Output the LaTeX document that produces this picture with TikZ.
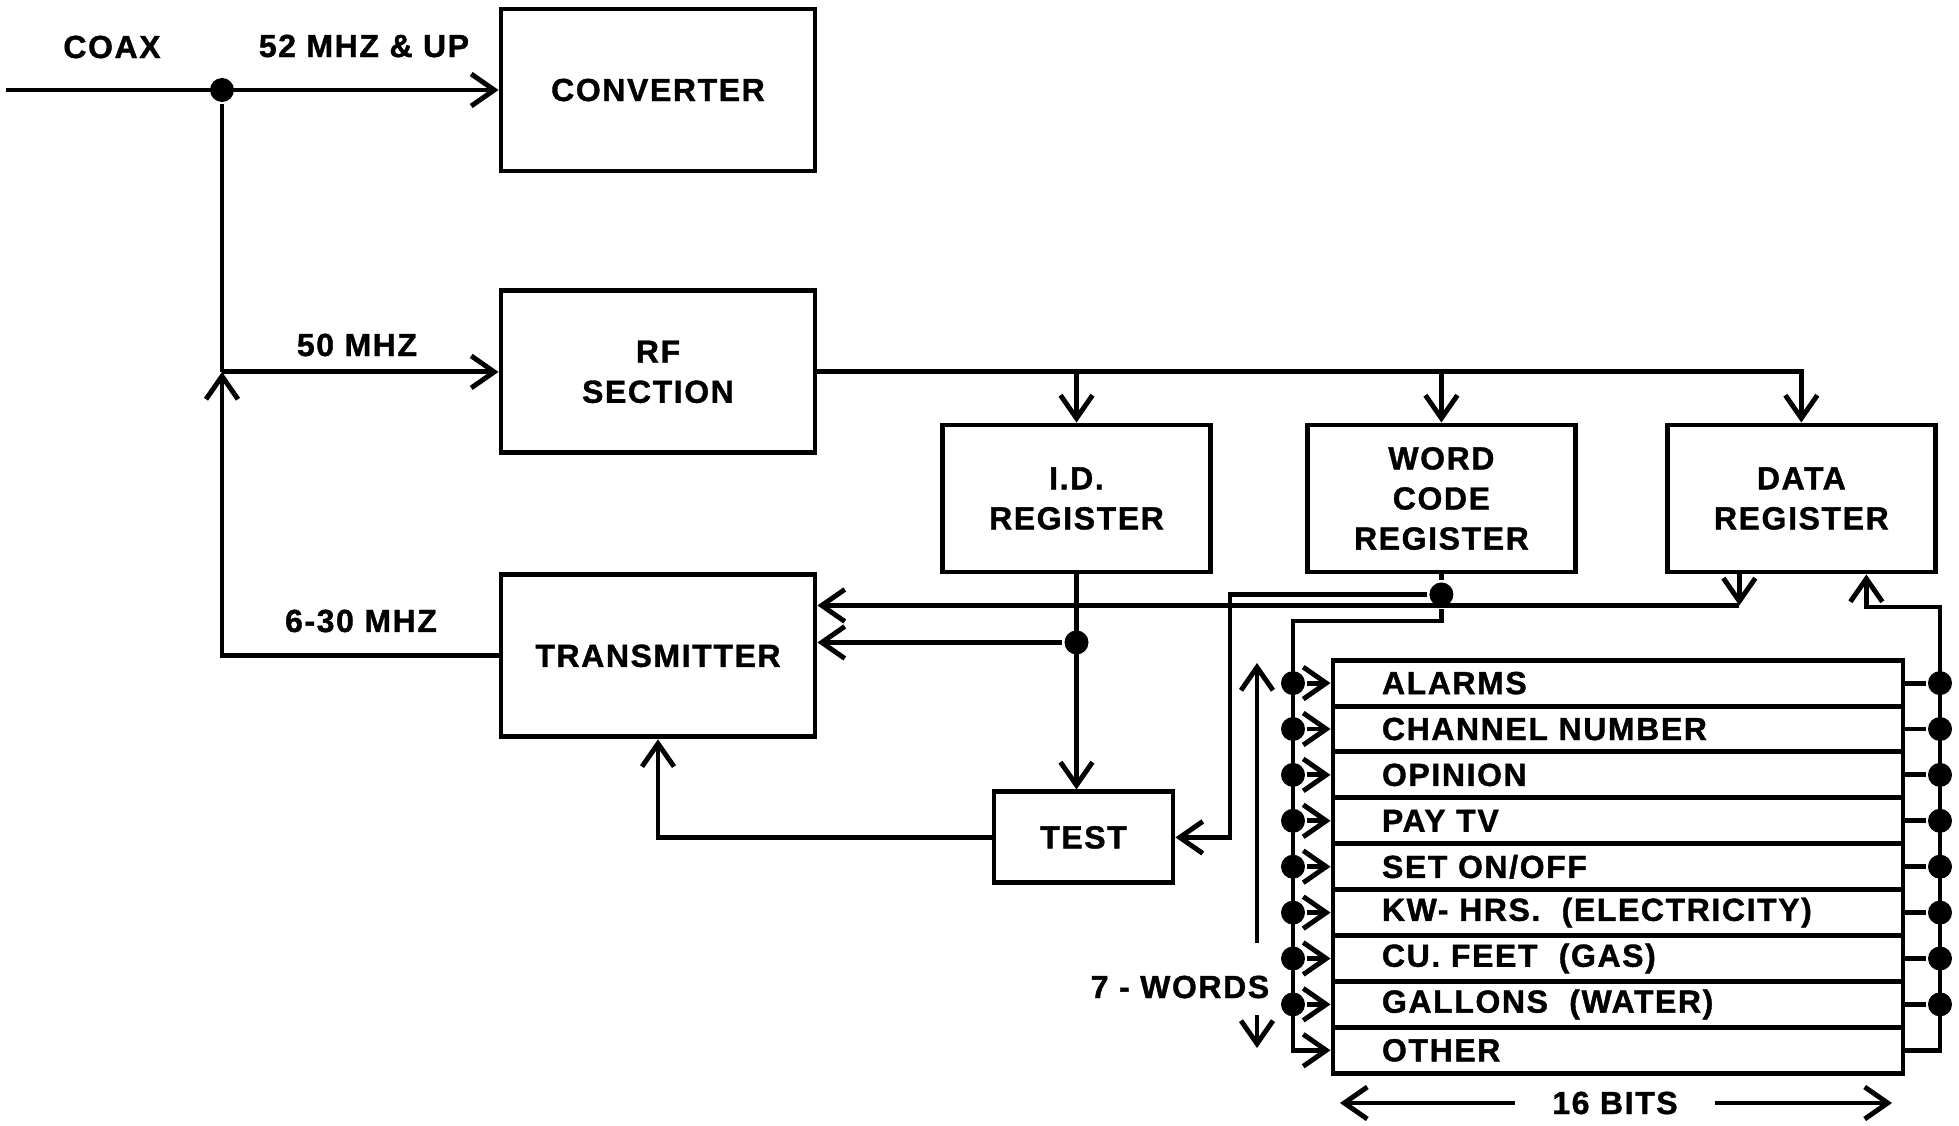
\documentclass[tikz,border=0pt]{standalone}
\usepackage{fontspec}
\setmainfont{Liberation Sans}[LetterSpace=5, BoldFeatures={FakeBold=1.2}]
\usetikzlibrary{positioning, arrows.meta}

\begin{document}
\begin{tikzpicture}[
    line width=1.4pt,
    every node/.style={font=\fontsize{9.1}{11.4}\selectfont\bfseries},
    box/.style={
      rectangle, draw, align=center,
      minimum width=3.14cm, minimum height=1.62cm
    },
    reg/.style={
      rectangle, draw, align=center,
      minimum width=2.68cm, minimum height=1.47cm
    },
    testbox/.style={rectangle, draw, minimum width=1.79cm, minimum height=0.91cm},
    wordrow/.style={
      rectangle, draw, align=left, text width=4.72cm,
      inner xsep=0.49cm, inner ysep=0pt, minimum height=0.459cm
    },
    dot/.style={circle, fill, inner sep=0pt, minimum size=0.24cm},
    arr/.style={-{Straight Barb[length=2.3mm, width=3.2mm]}}
  ]
    \useasboundingbox (0,0) rectangle (19.59,-11.26);

    % main blocks
    \node[box] (conv) at (6.58,-0.90) {CONVERTER};
    \node[box, below=1.15cm of conv] (rf) {RF\\SECTION};
    \node[box, below=1.17cm of rf] (tx) {TRANSMITTER};
    \node[reg] (id) at (10.765,-4.985) {I.D.\\REGISTER};
    \node[reg, right=0.92cm of id] (wc) {WORD\\CODE\\REGISTER};
    \node[reg, right=0.87cm of wc] (data) {DATA\\REGISTER};
    \node[testbox, below=2.15cm of id, xshift=0.07cm] (test) {TEST};

    % word table
    \foreach \t [count=\i] in {ALARMS, CHANNEL\ NUMBER, OPINION, PAY\ TV,
        {SET ON/OFF}, KW- HRS.\ \ (ELECTRICITY), CU. FEET\ \ (GAS),
        GALLONS\ \ (WATER), OTHER}
      \node[wordrow] (w\i) at (16.18,{-6.372-0.459*\i}) {\t};

    % labels
    \node (coax) at (1.12,-0.47) {COAX};
    \node (lup) at (3.64,-0.46) {52 MHZ \& UP};
    \node (l50) at (3.57,-3.45) {50 MHZ};
    \node (l630) at (3.61,-6.21) {6-30 MHZ};
    \node (words) at (11.80,-9.87) {7 - WORDS};
    \node[inner xsep=0.35cm] (bits) at (16.15,-11.03) {16 BITS};

    % coax input
    \coordinate (cin) at (0.06,-0.90);
    \node[dot] (jtop) at (2.22,-0.90) {};
    \coordinate (jrf) at (jtop |- rf.west);
    \draw[arr] (cin) -- (conv.west);
    \draw (jtop) -- (jrf);
    \draw[arr] (jrf) -- (rf.west);
    \draw[arr] (tx.west) -| (jrf);

    % rf section out
    \draw[arr] (rf.east) -| (data.north);
    \draw[arr] (id.north |- rf.east) -- (id.north);
    \draw[arr] (wc.north |- rf.east) -- (wc.north);

    % id register
    \node[dot] (jid) at ([yshift=-0.68cm]id.south) {};
    \draw[arr] (id.south) -- (id.south |- test.north);
    \draw[arr] (jid) -- (tx.east |- jid);
    \draw[arr] (test.west) -| (tx.south);

    % word code register
    \node[dot] (jwc) at ([yshift=-0.2cm]wc.south) {};
    \coordinate (wctx) at (12.30,0);
    \coordinate (lbus) at (12.93,-6.21);
    \draw (wc.south) -- (jwc);
    \draw[arr] (jwc) -| (wctx |- test.east) -- (test.east);
    \draw[arr] (jwc) |- (lbus) -- (lbus |- w9) -- (w9.west);
    \foreach \i in {1,...,8} {
      \node[dot] (lb\i) at (lbus |- w\i) {};
      \draw[arr] (lb\i) -- (w\i.west);
    }

    % data register
    \coordinate (rbus) at (19.40,-6.07);
    \foreach \i in {1,...,8} {
      \node[dot] (rb\i) at (rbus |- w\i) {};
      \draw (w\i.east) -- (rb\i);
    }
    \draw[arr] (w9.east) -| (rbus) -| ([xshift=0.65cm]data.south);
    \coordinate (dtx) at ([xshift=-0.62cm, yshift=-0.31cm]data.south);
    \draw[arr] ([xshift=-0.62cm]data.south) -- (dtx);
    \draw[arr] (dtx) -- (tx.east |- dtx);

    % size arrows
    \coordinate (wtail) at (12.57,-9.43);
    \coordinate (wtip) at (12.57,-6.63);
    \coordinate (wtail2) at (12.57,-10.15);
    \coordinate (wtip2) at (12.57,-10.48);
    \draw[arr] (wtail) -- (wtip);
    \draw[arr] (wtail2) -- (wtip2);
    \coordinate (bitsl) at (13.40,-11.03);
    \coordinate (bitsr) at (18.92,-11.03);
    \draw[arr] (bits.west) -- (bitsl);
    \draw[arr] (bits.east) -- (bitsr);
\end{tikzpicture}
\end{document}
